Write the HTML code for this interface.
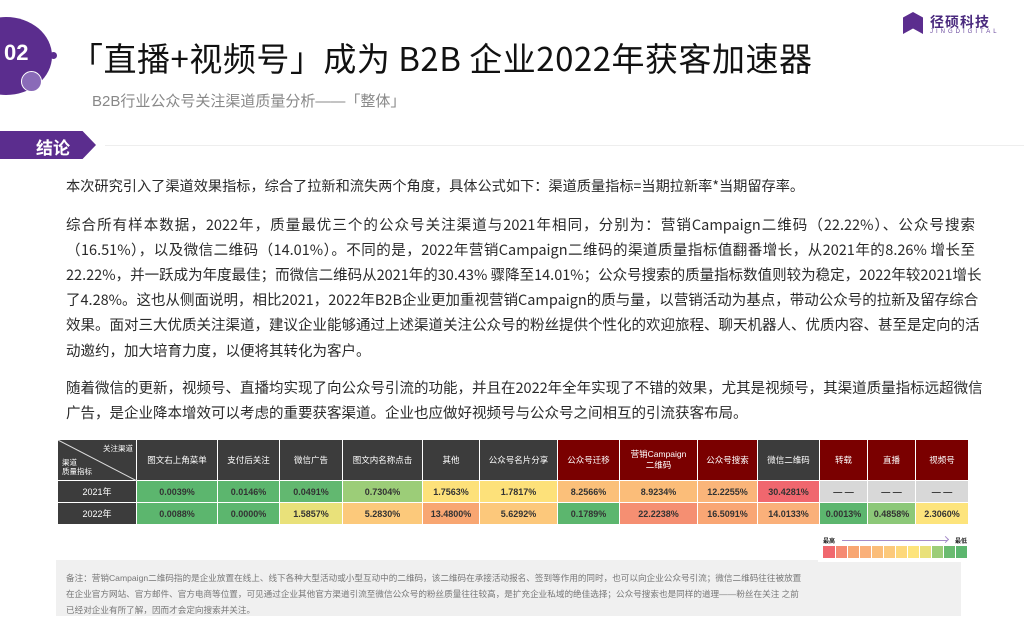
<!DOCTYPE html>
<html><head><meta charset="utf-8"><style>
*{margin:0;padding:0;box-sizing:border-box}
body{width:1024px;height:635px;background:#fff;position:relative;overflow:hidden;font-family:"Liberation Sans","Noto Sans CJK SC",sans-serif;color:#222}
.abs{position:absolute}
.ln{position:absolute;left:66px;width:909px;font-size:14.5px;white-space:nowrap;text-align:justify;text-align-last:justify;color:#2a2a2a;line-height:17px;font-family:"Noto Sans CJK SC",sans-serif}
.ln.l{text-align-last:left}
table{position:absolute;left:57px;top:439px;border-collapse:collapse;table-layout:fixed}
td{border:1.5px solid #fff;text-align:center;font-size:9px;font-weight:bold;padding:0}
tr.h td{height:41px;background:#7a0000;color:#fff;font-weight:normal;font-size:8.5px;line-height:11px}
tr.h td.g{background:#3c3c3c}
tr.r td{height:22px;color:#333}
td.y{background:#3c3c3c;color:#fff!important;font-weight:normal}
.note{position:absolute;left:56px;top:560px;width:905px;height:56px;background:#f0f0f0;padding:10px 0 0 10px;font-size:8.6px;color:#777;line-height:16px;white-space:nowrap}
</style></head><body>
<div class="abs" style="left:-40px;top:17px;width:92px;height:78px;border-radius:50%;background:#5b2d8e"></div>
<div class="abs" style="left:4px;top:40px;color:#fff;font-size:22px;font-weight:bold">02</div>
<div class="abs" style="left:21px;top:71px;width:21px;height:21px;border-radius:50%;background:#8a6bb8;border:1.5px solid #fff"></div>
<div class="abs" style="left:50px;top:52px;width:7px;height:7px;border-radius:50%;background:#5b2d8e"></div>
<div class="abs" style="left:70px;top:36px;font-size:33px;color:#111;white-space:nowrap;letter-spacing:0.5px;font-family:'Noto Sans CJK SC',sans-serif;line-height:42px">「直播+视频号」成为 B2B 企业2022年获客加速器</div>
<div class="abs" style="left:92px;top:90px;font-size:15px;color:#888;white-space:nowrap">B2B行业公众号关注渠道质量分析——「整体」</div>
<div class="abs" style="left:903px;top:12px;width:20px;height:22px;background:#5b2d8e;clip-path:polygon(0 25%,50% 0,100% 25%,100% 100%,50% 75%,0 100%)"></div>
<div class="abs" style="left:930px;top:12px;font-size:14px;font-weight:bold;color:#4a2a7e;letter-spacing:1px">径硕科技</div>
<div class="abs" style="left:930px;top:29px;font-size:6px;color:#6a4a9e;letter-spacing:3px">JINGDIGITAL</div>
<div class="abs" style="left:0;top:131px;width:96px;height:28px;background:#5b2d8e;clip-path:polygon(0 0,86% 0,100% 50%,86% 100%,0 100%)"></div>
<div class="abs" style="left:36px;top:134px;font-size:17px;font-weight:bold;color:#fff">结论</div>
<div class="abs" style="left:105px;top:145px;width:919px;height:1px;background:#eee"></div>
<div class="ln l" style="top:178px;font-size:14.2px">本次研究引入了渠道效果指标，综合了拉新和流失两个角度，具体公式如下：渠道质量指标=当期拉新率*当期留存率。</div>
<div class="ln" style="top:216px">综合所有样本数据，2022年，质量最优三个的公众号关注渠道与2021年相同，分别为：营销Campaign二维码（22.22%）、公众号搜索</div>
<div class="ln" style="top:241px">（16.51%），以及微信二维码（14.01%）。不同的是，2022年营销Campaign二维码的渠道质量指标值翻番增长，从2021年的8.26% 增长至</div>
<div class="ln" style="top:266px">22.22%，并一跃成为年度最佳；而微信二维码从2021年的30.43% 骤降至14.01%；公众号搜索的质量指标数值则较为稳定，2022年较2021增长</div>
<div class="ln" style="top:291px">了4.28%。这也从侧面说明，相比2021，2022年B2B企业更加重视营销Campaign的质与量，以营销活动为基点，带动公众号的拉新及留存综合</div>
<div class="ln" style="top:316px">效果。面对三大优质关注渠道，建议企业能够通过上述渠道关注公众号的粉丝提供个性化的欢迎旅程、聊天机器人、优质内容、甚至是定向的活</div>
<div class="ln l" style="top:342px">动邀约，加大培育力度，以便将其转化为客户。</div>
<div class="ln" style="top:379px">随着微信的更新，视频号、直播均实现了向公众号引流的功能，并且在2022年全年实现了不错的效果，尤其是视频号，其渠道质量指标远超微信</div>
<div class="ln l" style="top:404px">广告，是企业降本增效可以考虑的重要获客渠道。企业也应做好视频号与公众号之间相互的引流获客布局。</div>
<table>
<colgroup><col style="width:79px"><col style="width:81px"><col style="width:62px"><col style="width:63px"><col style="width:80px"><col style="width:57px"><col style="width:78px"><col style="width:62px"><col style="width:78px"><col style="width:60px"><col style="width:62px"><col style="width:48px"><col style="width:48px"><col style="width:53px"></colgroup>
<tr class="h"><td class="g" style="position:relative;text-align:left;font-size:7.5px;line-height:9px">
<svg style="position:absolute;left:0;top:0" width="79" height="41"><line x1="0" y1="0" x2="79" y2="41" stroke="#ddd" stroke-width="1"/></svg>
<div style="position:absolute;right:3px;top:4px">关注渠道</div><div style="position:absolute;left:4px;top:18px">渠道<br>质量指标</div></td>
<td class="g">图文右上角菜单</td><td class="g">支付后关注</td><td class="g">微信广告</td><td class="g">图文内名称点击</td><td class="g">其他</td><td class="g">公众号名片分享</td><td>公众号迁移</td><td>营销Campaign<br>二维码</td><td>公众号搜索</td><td class="g">微信二维码</td><td>转载</td><td>直播</td><td>视频号</td></tr>
<tr class="r"><td class="y">2021年</td>
<td style="background:#5cb66e">0.0039%</td><td style="background:#5cb66e">0.0146%</td><td style="background:#62b870">0.0491%</td><td style="background:#9ccd78">0.7304%</td><td style="background:#fde17a">1.7563%</td><td style="background:#fde17a">1.7817%</td><td style="background:#fbc07a">8.2566%</td><td style="background:#fbbd79">8.9234%</td><td style="background:#fab57a">12.2255%</td><td style="background:#f0676e">30.4281%</td><td style="background:#d8d8d8">— —</td><td style="background:#d8d8d8">— —</td><td style="background:#d8d8d8">— —</td></tr>
<tr class="r"><td class="y">2022年</td>
<td style="background:#5cb66e">0.0088%</td><td style="background:#5cb66e">0.0000%</td><td style="background:#e9e17a">1.5857%</td><td style="background:#fcc97b">5.2830%</td><td style="background:#f8a672">13.4800%</td><td style="background:#fcc87b">5.6292%</td><td style="background:#5cb66e">0.1789%</td><td style="background:#f58f72">22.2238%</td><td style="background:#f9a674">16.5091%</td><td style="background:#fab07a">14.0133%</td><td style="background:#5cb66e">0.0013%</td><td style="background:#8cc878">0.4858%</td><td style="background:#fde47c">2.3060%</td></tr>
</table>
<div class="note">备注：营销Campaign二维码指的是企业放置在线上、线下各种大型活动或小型互动中的二维码，该二维码在承接活动报名、签到等作用的同时，也可以向企业公众号引流；微信二维码往往被放置<br>在企业官方网站、官方邮件、官方电商等位置，可见通过企业其他官方渠道引流至微信公众号的粉丝质量往往较高，是扩充企业私域的绝佳选择；公众号搜索也是同样的道理——粉丝在关注 之前<br>已经对企业有所了解，因而才会定向搜索并关注。</div>
<div class="abs" style="left:818px;top:528px;width:152px;height:34px;background:#fff"></div>
<div class="abs" style="left:823px;top:536px;font-size:6px;font-weight:bold">最高</div>
<div class="abs" style="left:955px;top:536px;font-size:6px;font-weight:bold">最低</div>
<div class="abs" style="left:842px;top:540px;width:105px;height:1px;background:#a58cc8"></div>
<div class="abs" style="left:943px;top:537px;width:5px;height:5px;border-top:1px solid #a58cc8;border-right:1px solid #a58cc8;transform:rotate(45deg)"></div>
<div class="abs" style="left:823px;top:546px;display:flex;height:12px">
<div style="width:12px;background:#f0676e"></div><div style="width:12px;background:#f58a72;border-left:1px solid #fff"></div><div style="width:12px;background:#f8a672;border-left:1px solid #fff"></div><div style="width:12px;background:#fab07a;border-left:1px solid #fff"></div><div style="width:12px;background:#fbbd79;border-left:1px solid #fff"></div><div style="width:12px;background:#fcc97b;border-left:1px solid #fff"></div><div style="width:12px;background:#fdd87b;border-left:1px solid #fff"></div><div style="width:12px;background:#fde47c;border-left:1px solid #fff"></div><div style="width:12px;background:#e9e17a;border-left:1px solid #fff"></div><div style="width:12px;background:#9ccd78;border-left:1px solid #fff"></div><div style="width:12px;background:#6abb70;border-left:1px solid #fff"></div><div style="width:12px;background:#5cb66e;border-left:1px solid #fff"></div></div>
</body></html>
